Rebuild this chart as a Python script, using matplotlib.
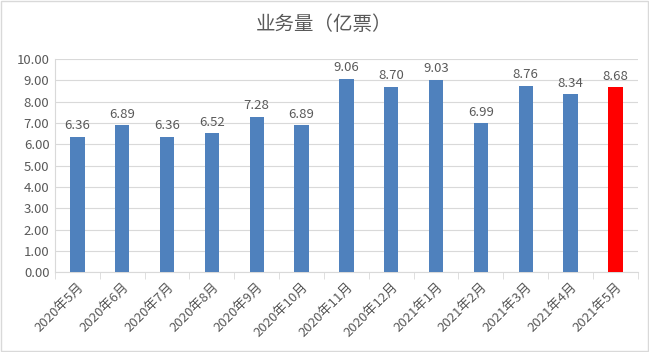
import numpy as np
import matplotlib.pyplot as plt
from matplotlib.patches import Rectangle

plt.rcParams['font.family'] = ['Noto Sans CJK SC', 'DejaVu Sans']

months = ['2020年5月', '2020年6月', '2020年7月', '2020年8月', '2020年9月', '2020年10月',
          '2020年11月', '2020年12月', '2021年1月', '2021年2月', '2021年3月', '2021年4月',
          '2021年5月']
volume = [6.36, 6.89, 6.36, 6.52, 7.28, 6.89, 9.06, 8.70, 9.03, 6.99, 8.76, 8.34, 8.68]

txt = '#595959'
colors = ['#4F81BD'] * (len(months) - 1) + ['#FF0000']

fig = plt.figure(figsize=(6.49, 3.52), dpi=100)
ax = fig.add_axes([0.0847, 0.227, 0.898, 0.605])
fig.patches.append(Rectangle((0.002, 0.003), 0.996, 0.994, transform=fig.transFigure,
                             fill=False, edgecolor='#D9D9D9', linewidth=1))

x = np.arange(len(months))
ax.bar(x, volume, width=0.32, color=colors, zorder=3)
for xi, v in zip(x, volume):
    ax.text(xi, v + 0.22, f'{v:.2f}', ha='center', va='bottom', fontsize=9.5, color=txt)

ax.set_xlim(-0.5, len(months) - 0.5)
ax.set_ylim(0, 10)
ax.set_yticks(np.arange(0, 10.01, 1))
ax.set_yticklabels([f'{t:.2f}' for t in np.arange(0, 10.01, 1)], fontsize=9.5, color=txt)
ax.yaxis.grid(True, color='#D9D9D9', linewidth=0.8, zorder=0)
ax.tick_params(axis='y', length=0, pad=4)

ax.set_xticks(x)
ax.set_xticklabels(months, rotation=45, ha='right', rotation_mode='anchor', fontsize=9.5, color=txt)
ax.set_xticks(np.arange(-0.5, len(months), 1), minor=True)
ax.tick_params(axis='x', which='major', length=0, pad=6)
ax.tick_params(axis='x', which='minor', length=5, color='#D9D9D9')

for s in ['top', 'right']:
    ax.spines[s].set_visible(False)
for s in ['left', 'bottom']:
    ax.spines[s].set_color('#D9D9D9')

fig.text(0.5, 0.93, '业务量（亿票）', ha='center', va='center', fontsize=14, color=txt)

fig.savefig('out.png', dpi=100)
